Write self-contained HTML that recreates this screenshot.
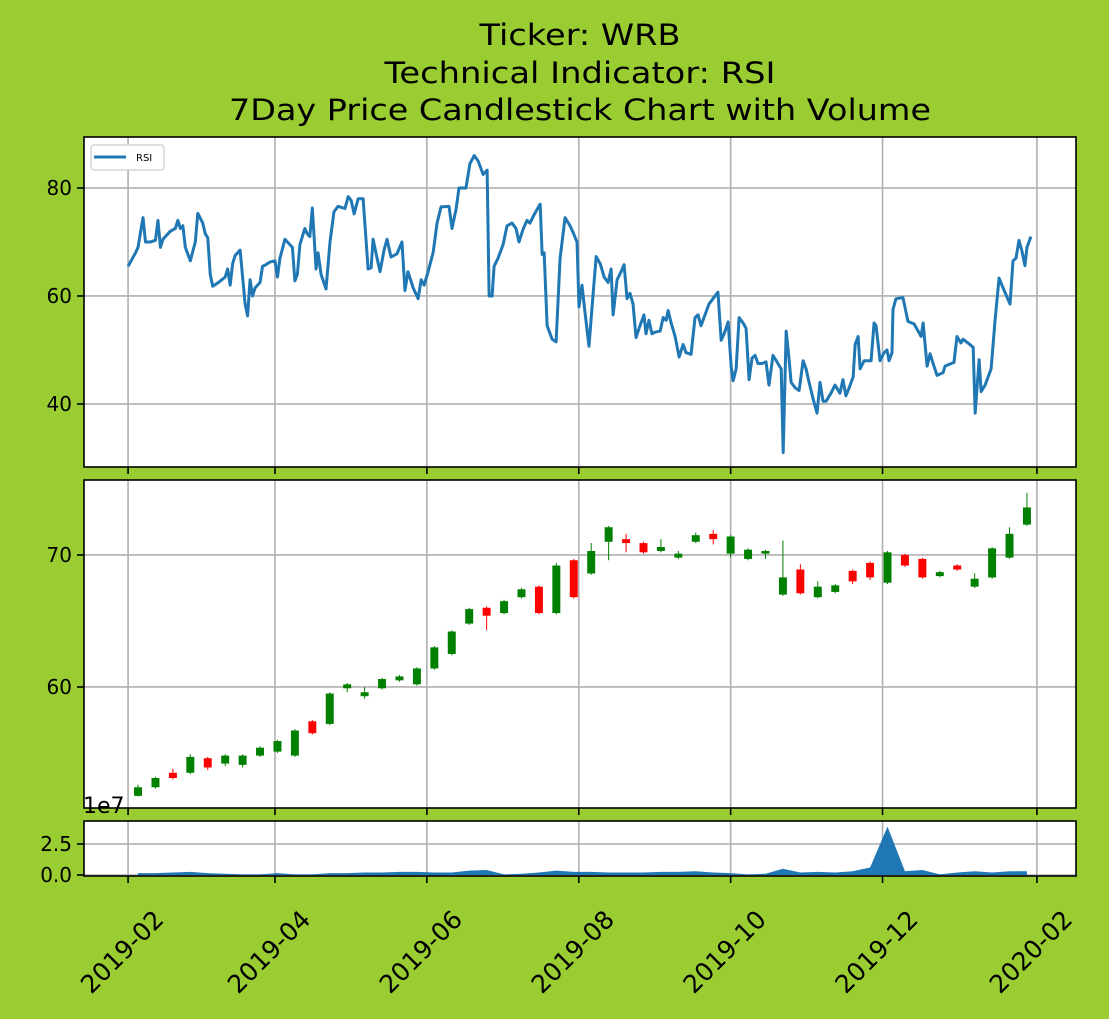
<!DOCTYPE html>
<html><head><meta charset="utf-8"><style>
html,body{margin:0;padding:0;background:#9ACD32;}
svg{display:block;font-family:"DejaVu Sans","Liberation Sans",sans-serif;}
</style></head><body>
<svg id="fig" width="1109" height="1019" viewBox="0 0 1109 1019" xmlns="http://www.w3.org/2000/svg">
<rect width="1109" height="1019" fill="#9ACD32"/>
<g font-size="29" text-anchor="middle" fill="#000">
<text x="580" y="45" textLength="201" lengthAdjust="spacingAndGlyphs">Ticker: WRB</text>
<text x="580" y="83" textLength="391" lengthAdjust="spacingAndGlyphs">Technical Indicator: RSI</text>
<text x="580" y="120" textLength="702" lengthAdjust="spacingAndGlyphs">7Day Price Candlestick Chart with Volume</text>
</g>
</svg>
<script>
const rsiPoints=[[0,65.5],[3,68],[4,69],[5,71.8],[6,74.5],[7,70],[9,70],[11,70.3],[12,74],[13,69],[14,70.5],[17,72],[19,72.5],[20,74],[21,72.5],[22,73],[23,69],[25,66.5],[27,70],[28,75.3],[30,73.5],[31,71.5],[32,70.8],[33,64],[34,61.8],[36,62.4],[39,63.5],[40,65],[41,62],[42,66],[43,67.5],[45,68.5],[47,58.5],[48,56.3],[49,63],[50,60],[51,61.5],[53,62.5],[54,65.5],[55,65.7],[57,66.3],[59,66.5],[60,63.5],[61,67],[63,70.5],[66,69],[67,62.8],[68,64],[69,69.5],[71,72.5],[72,71.5],[73,71],[74,76.3],[75.5,65],[76.3,68],[77.5,64],[79.5,61.3],[81.1,70],[82.7,75.6],[84.3,76.6],[87.1,76.2],[88.4,78.4],[89.6,77.7],[90.8,75.2],[92.4,78],[94.4,78],[96.4,65],[97.6,65.2],[98.4,70.5],[100,67],[101.2,64.5],[102.8,68.5],[104,70.5],[105.6,67.2],[108,67.8],[110,70],[111.2,61],[112.4,64.5],[114.5,61.5],[116.5,59.5],[117.7,63],[118.9,62],[120.5,64.5],[122.5,68],[124.1,73.5],[125.7,76.5],[128.9,76.6],[130.1,72.5],[131.7,76],[132.9,80],[135.7,80],[137.3,84.5],[139,86],[140.6,85],[142.6,82.5],[144.2,83.3],[145,60],[146.2,60],[147,65.5],[148.6,67],[150.6,69.5],[152.2,73],[154.2,73.5],[155.8,72.5],[157,70],[158.6,72.3],[160.2,74],[161.4,73.5],[163,75],[165.5,77],[166.3,67.7],[167.1,68],[168.3,54.5],[170.3,52],[171.9,51.5],[173.5,67],[175.5,74.5],[177.5,73],[178.7,71.8],[180.3,70],[181.1,58],[182.3,62],[183.5,57],[185.1,50.7],[186.7,60],[188,67.3],[189.6,66],[191.2,63.5],[192.8,62.5],[194,65],[194.8,56.5],[196.4,63],[198,64.5],[199.2,65.8],[200.4,59.5],[201.6,60.5],[202.8,58.5],[204,52.3],[205.6,54.5],[207.2,56.5],[208,53],[209.2,55.5],[210.4,53],[211.6,53.3],[213.7,53.5],[214.9,56],[216.1,55.5],[216.9,57.3],[218.1,55],[219.7,52.5],[221.3,48.7],[222.9,51],[224.1,49.5],[226.1,49.2],[227.7,56],[228.9,56.5],[230.1,54.5],[231.7,56.5],[233.3,58.5],[234.9,59.5],[236.9,60.7],[238.2,51.8],[239.4,53],[241,55.2],[242.2,47],[243,44.3],[244.2,46.5],[245.4,56],[247,55],[248.2,54],[249.4,44.5],[250.6,48.5],[251.8,49],[253,47.5],[254.6,47.5],[256.2,47.8],[257.4,43.5],[259,49],[260.6,47.8],[262.3,46.5],[263.1,31],[264.3,53.5],[265.1,50],[266.3,44],[267.9,43],[269.5,42.5],[271.1,48],[272.3,46.5],[273.5,44],[275.1,41],[276.7,38.3],[277.9,44],[279.1,40.5],[280.3,40.5],[282.3,42],[283.9,43.5],[285.9,42],[287.1,44.5],[288.3,41.5],[289.6,43],[291.2,45],[292,51],[293.2,52.5],[294,46.5],[295.6,48],[296.8,48],[298.4,48],[299.6,55],[300.4,54.5],[302,48],[303.6,49.5],[304.8,50],[305.6,48],[306.8,49.5],[307.2,57.5],[308.4,59.5],[311.2,59.7],[313.2,55.3],[315.7,54.8],[317.3,53.5],[318.5,52.5],[319.3,55],[320.9,47],[322.1,49.3],[323.3,47.5],[324.9,45.3],[327.3,45.8],[328.1,47],[331.7,47.7],[332.9,52.5],[334.5,51.3],[335.3,52],[337.3,51.3],[339.4,50.5],[340.2,38.3],[341.8,48.2],[342.6,42.3],[344.2,43.5],[346.6,46.5],[348.2,55.5],[349.8,63.3],[351.4,61.5],[354.2,58.5],[355.4,66.5],[356.6,67],[357.8,70.3],[359,68.3],[360.2,65.6],[361,69],[362.6,71]];
const candleStartDay=4, candleStepDays=7;
const candleOpen=[51.75,52.4,53.5,53.5,54.6,54.2,54.1,54.8,55.1,54.8,57.4,57.2,59.9,59.3,59.9,60.5,60.2,61.4,62.5,64.8,66.0,65.6,66.8,67.6,65.6,69.6,68.6,71.0,71.2,70.9,70.3,69.8,71.0,71.6,70.1,69.7,70.1,67.0,68.9,66.8,67.2,68.8,69.4,67.9,70.0,69.7,68.4,69.2,67.6,68.3,69.8,72.3];
const candleClose=[52.4,53.1,53.1,54.7,53.9,54.8,54.8,55.4,55.9,56.7,56.5,59.5,60.2,59.6,60.6,60.8,61.4,63.0,64.2,65.9,65.4,66.5,67.4,65.6,69.2,66.8,70.3,72.1,70.9,70.2,70.6,70.1,71.5,71.2,71.4,70.4,70.3,68.3,67.1,67.6,67.7,68.0,68.3,70.2,69.2,68.3,68.7,68.9,68.2,70.5,71.6,73.6];
const candleHigh=[52.6,53.2,53.8,54.9,54.7,54.9,54.9,55.5,56.0,56.8,57.5,59.6,60.3,60.0,60.7,60.9,61.5,63.1,64.3,66.0,66.1,66.6,67.5,67.7,69.4,69.7,70.9,72.2,71.6,71.0,71.2,70.3,71.7,71.9,71.5,70.5,70.4,71.1,69.3,68.0,67.8,68.9,69.5,70.3,70.1,69.8,68.8,69.3,68.6,70.6,72.1,74.7];
const candleLow=[51.7,52.3,53.0,53.4,53.7,54.0,53.9,54.7,55.0,54.7,56.4,57.1,59.6,59.1,59.8,60.4,60.1,61.3,62.4,64.7,64.3,65.5,66.7,65.5,65.5,66.7,68.5,69.6,70.2,70.1,70.2,69.7,70.9,70.8,69.8,69.6,69.7,66.9,67.0,66.7,67.1,67.8,68.1,67.8,69.1,68.2,68.3,68.8,67.5,68.2,69.7,72.2];
const volume=[0.15,0.15,0.2,0.25,0.15,0.1,0.05,0.05,0.15,0.05,0.05,0.15,0.15,0.2,0.2,0.25,0.25,0.2,0.2,0.35,0.4,0.05,0.1,0.2,0.35,0.25,0.25,0.2,0.2,0.2,0.25,0.25,0.3,0.2,0.15,0.05,0.1,0.5,0.2,0.25,0.2,0.3,0.6,3.9,0.3,0.4,0.05,0.2,0.3,0.2,0.3,0.3];
const xTickLabels=["2019-02","2019-04","2019-06","2019-08","2019-10","2019-12","2020-02"];
const xTickDays=[0,59,120,181,242,303,365];
const rsiTicks=[40,60,80];
const priceTicks=[60,70];
const volTicks=[0,2.5];
const volTickLabels=["0.0","2.5"];

const NS="http://www.w3.org/2000/svg";
const svg=document.getElementById('fig');
function mk(tag,attrs,parent){const e=document.createElementNS(NS,tag);for(const k in attrs)e.setAttribute(k,attrs[k]);(parent||svg).appendChild(e);return e;}
const L=84,R=1076;
const xDay=d=>L+(d+17.7)/(380.7+17.7)*(R-L);
const panels={
 rsi:{top:137,bot:467,min:28.33,max:89.44},
 price:{top:480,bot:808,min:50.83,max:75.68},
 vol:{top:821,bot:876,min:-0.08,max:4.35}
};
const yOf=(p,v)=>p.bot-(v-p.min)/(p.max-p.min)*(p.bot-p.top);

function panelBase(p,name,ticks,labels){
  const g=mk('g',{});
  
  
  mk('rect',{x:L,y:p.top,width:R-L,height:p.bot-p.top,fill:'#fff'},g);
  xTickDays.forEach(d=>{const x=xDay(d);mk('line',{x1:x,x2:x,y1:p.top,y2:p.bot,stroke:'#b0b0b0','stroke-width':1.6},g);});
  ticks.forEach((t,i)=>{const y=yOf(p,t);
    mk('line',{x1:L,x2:R,y1:y,y2:y,stroke:'#b0b0b0','stroke-width':1.6},g);
    mk('line',{x1:L-7,x2:L,y1:y,y2:y,stroke:'#000','stroke-width':1.6},g);
    const t2=mk('text',{x:L-12,y:y+7,'text-anchor':'end','font-size':20},g);
    t2.textContent=labels?labels[i]:String(t);
    
    
  });
  xTickDays.forEach(d=>{const x=xDay(d);mk('line',{x1:x,x2:x,y1:p.bot,y2:p.bot+7,stroke:'#000','stroke-width':1.6},g);});
  return g;
}
function frame(p,g){mk('rect',{x:L,y:p.top,width:R-L,height:p.bot-p.top,fill:'none',stroke:'#000','stroke-width':1.6},g);}

// RSI
const pr=panels.rsi;
const gr=panelBase(pr,'rsi',rsiTicks);
const rl=mk('polyline',{points:rsiPoints.map(q=>xDay(q[0])+','+yOf(pr,q[1])).join(' '),fill:'none',stroke:'#1f77b4','stroke-width':3,'stroke-linejoin':'round'},gr);


frame(pr,gr);
const lg=mk('g',{},gr);


mk('rect',{x:91,y:145,width:73,height:25,rx:3,fill:'#fff',stroke:'#ccc','stroke-width':1.2},lg);
mk('line',{x1:94,x2:126,y1:157,y2:157,stroke:'#1f77b4','stroke-width':3},lg);
const lt=mk('text',{x:136,y:161,'font-size':10},lg);lt.textContent='RSI';



// Price candles
const pp=panels.price;
const gp=panelBase(pp,'price',priceTicks);
candleOpen.forEach((o,i)=>{
  const c=candleClose[i],d=candleStartDay+i*candleStepDays,x=xDay(d);
  const col=c>=o?'#008000':'#ff0000';
  const cg=mk('g',{},gp);
  
  
  mk('line',{x1:x,x2:x,y1:yOf(pp,candleHigh[i]),y2:yOf(pp,candleLow[i]),stroke:col,'stroke-width':1},cg);
  const w=xDay(d+1.6)-xDay(d-1.6);
  const yt=yOf(pp,Math.max(o,c)),yb=yOf(pp,Math.min(o,c));
  mk('rect',{x:x-w/2,y:yt,width:w,height:Math.max(yb-yt,1.5),fill:col},cg);
});
frame(pp,gp);
const e7=mk('text',{x:83,y:813,'font-size':22});e7.textContent='1e7';



// Volume
const pv=panels.vol;
const gv=panelBase(pv,'volume',volTicks,volTickLabels);
const xs=volume.map((v,i)=>xDay(candleStartDay+i*candleStepDays));
let pts=xs.map((x,i)=>x+','+yOf(pv,volume[i])).join(' ');
const va=mk('polygon',{points:xs[0]+','+yOf(pv,0)+' '+pts+' '+xs[xs.length-1]+','+yOf(pv,0),fill:'#1f77b4'},gv);


frame(pv,gv);
xTickDays.forEach((d,i)=>{
  const x=xDay(d);
  const t=mk('text',{x:0,y:0,'font-size':25,'text-anchor':'end',transform:'translate('+(x+37)+','+(pv.bot+45)+') rotate(-45)'});
  t.textContent=xTickLabels[i];
  
  
});
</script>
</body></html>
